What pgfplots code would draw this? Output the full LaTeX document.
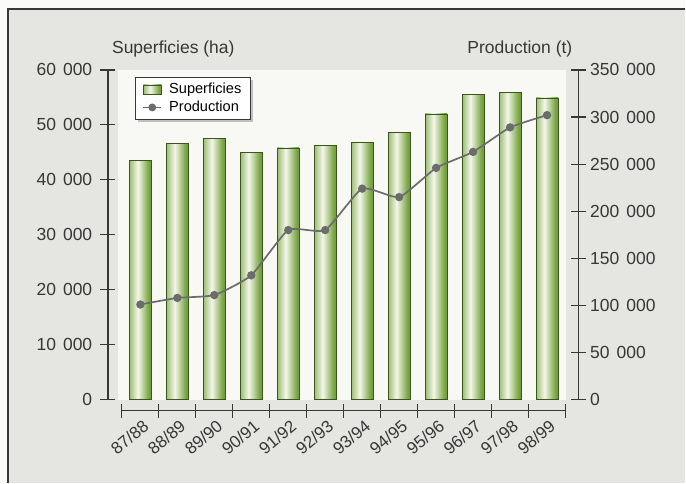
\documentclass[border=0pt]{standalone}
\usepackage{pgfplots}
\pgfplotsset{compat=1.18}
\usepackage{pgfplotstable}
\usepackage{fontspec}
\setmainfont{Liberation Sans}
\usetikzlibrary{shadows}

\definecolor{framebg}{RGB}{229,229,226}
\definecolor{outerbg}{RGB}{250,250,248}
\definecolor{plotbg}{RGB}{248,248,244}
\definecolor{axisgray}{RGB}{55,55,55}
\definecolor{bdark}{RGB}{76,120,32}
\definecolor{bmid}{RGB}{124,168,72}
\definecolor{blight}{RGB}{244,247,234}
\definecolor{bedge}{RGB}{58,86,28}
\definecolor{linegray}{RGB}{108,108,108}

\pgfdeclarehorizontalshading{barshade}{100bp}{color(0bp)=(bdark); color(18bp)=(bmid); color(44bp)=(blight); color(68bp)=(bmid); color(90bp)=(bdark); color(100bp)=(bdark)}

% paths inside the legend must not repeat the legend's shadow
\makeatletter
\tikzset{noshadow/.code={\def\tikz@preactions{}}}
\makeatother

\newcommand\sep{\hspace{0.4em}}
\newcommand\bigfont{\fontsize{17.5}{20}\selectfont}

% campaign index and production (t)
\pgfplotstableread{
idx prod
0 101000
1 108000
2 111000
3 132000
4 180000
5 180000
6 224000
7 215000
8 246000
9 263000
10 289000
11 302000
}\proddata

\pgfplotsset{
  greenbar/.style={ybar, bar shift=0pt, bar width=22pt, draw=bedge, line width=0.8pt,
    shade, shading=barshade, forget plot},
}

\begin{document}
\begin{tikzpicture}[x=1pt,y=1pt]
% page and frame
\fill[outerbg] (0,0) rectangle (686,483);
\fill[framebg] (8,0) rectangle (686,474);
\draw[axisgray, line width=1.2pt] (8,0) -- (8,474) -- (686,474);

% bars (left scale), one plot per bar so each bar gets its own shading
\begin{axis}[
  scale only axis, anchor=south west, at={(118pt,83pt)},
  width=448pt, height=330pt,
  xmin=-0.608, xmax=11.5, ymin=0, ymax=60000,
  axis line style={draw=none}, ticks=none, scaled ticks=false,
  axis background/.style={fill=plotbg},
  clip=false,
  legend cell align=left,
  legend style={at={(0.038,0.979)}, anchor=north west,
    draw=axisgray, line width=1pt, fill=white,
    font=\fontsize{14.6}{17}\selectfont,
    inner xsep=7pt, inner ysep=4pt, row sep=2pt,
    /tikz/every odd column/.append style={column sep=5pt},
    drop shadow={shadow xshift=3pt, shadow yshift=-3pt, fill=black!45}},
]
\addplot[greenbar] coordinates {(0,43600)};
\addplot[greenbar] coordinates {(1,46700)};
\addplot[greenbar] coordinates {(2,47600)};
\addplot[greenbar] coordinates {(3,45000)};
\addplot[greenbar] coordinates {(4,45800)};
\addplot[greenbar] coordinates {(5,46200)};
\addplot[greenbar] coordinates {(6,46800)};
\addplot[greenbar] coordinates {(7,48700)};
\addplot[greenbar] coordinates {(8,52000)};
\addplot[greenbar] coordinates {(9,55600)};
\addplot[greenbar] coordinates {(10,55900)};
\addplot[greenbar] coordinates {(11,54900)};
\addlegendimage{legend image code/.code={\shade[noshadow, shading=barshade, draw=bedge, line width=0.6pt] (0pt,-4.5pt) rectangle (18pt,4.5pt);}}
\addlegendentry{Superficies}
\addlegendimage{linegray, line width=1.8pt, mark=*, mark size=3pt, mark options={fill=linegray},
  legend image code/.code={\draw[noshadow, mark repeat=2, mark phase=2] plot coordinates {(0pt,0pt) (9pt,0pt) (18pt,0pt)};}}
\addlegendentry{Production}
\end{axis}

% production line (right scale)
\begin{axis}[
  scale only axis, anchor=south west, at={(118pt,83pt)},
  width=448pt, height=330pt,
  xmin=-0.608, xmax=11.5, ymin=0, ymax=350000,
  hide axis, clip=false, scaled ticks=false,
]
\addplot[linegray, line width=1.7pt, smooth, tension=0.3, mark=*, mark size=3.3pt,
  mark options={fill=linegray, draw=linegray}]
  table[x=idx, y=prod] {\proddata};
\end{axis}

% left scale
\begin{axis}[
  scale only axis, anchor=south west, at={(108pt,83pt)},
  width=20pt, height=330pt,
  xmin=0, xmax=1, ymin=0, ymax=60000,
  axis x line=none, axis y line*=left, ytick pos=left, scaled ticks=false,
  y axis line style={axisgray, line width=1.2pt, -},
  ytick={0,10000,20000,30000,40000,50000,60000},
  yticklabels={0,10\sep000,20\sep000,30\sep000,40\sep000,50\sep000,60\sep000},
  tick align=center, major tick length=15pt,
  tick style={axisgray, line width=1.2pt},
  yticklabel style={font=\bigfont, text=axisgray, inner sep=0pt, xshift=-8pt},
]
\end{axis}

% right scale
\begin{axis}[
  scale only axis, anchor=south east, at={(579pt,83pt)},
  width=20pt, height=330pt,
  xmin=0, xmax=1, ymin=0, ymax=350000,
  axis x line=none, axis y line*=right, ytick pos=right, scaled ticks=false,
  y axis line style={axisgray, line width=1.2pt, -},
  ytick={0,50000,100000,150000,200000,250000,300000,350000},
  yticklabels={0,50\sep000,100\sep000,150\sep000,200\sep000,250\sep000,300\sep000,350\sep000},
  tick align=center, major tick length=15pt,
  tick style={axisgray, line width=1.2pt},
  yticklabel style={font=\bigfont, text=axisgray, inner sep=0pt, xshift=4pt},
]
\end{axis}

% category scale
\begin{axis}[
  scale only axis, anchor=south west, at={(122pt,72pt)},
  width=444pt, height=10pt,
  xmin=-0.5, xmax=11.5, ymin=0, ymax=1,
  axis y line=none, axis x line*=bottom, xtick pos=bottom,
  x axis line style={axisgray, line width=1.2pt, -},
  xtick={0,1,2,3,4,5,6,7,8,9,10,11},
  xticklabels={87/88,88/89,89/90,90/91,91/92,92/93,93/94,94/95,95/96,96/97,97/98,98/99},
  minor xtick={-0.5,0.5,1.5,2.5,3.5,4.5,5.5,6.5,7.5,8.5,9.5,10.5,11.5},
  major tick length=0pt, minor tick length=14pt, tick align=center,
  tick style={axisgray, line width=1.2pt},
  xticklabel style={font=\fontsize{17}{20}\selectfont, text=axisgray, xshift=1.5pt, yshift=-8pt, rotate=40, anchor=north east, inner sep=0pt},
]
\end{axis}

% scale titles
\node[anchor=base west, inner sep=0pt, font=\bigfont, text=axisgray] at (112,429.5) {Superficies (ha)};
\node[anchor=base east, inner sep=0pt, font=\bigfont, text=axisgray] at (573,429.5) {Production (t)};
\end{tikzpicture}
\end{document}
